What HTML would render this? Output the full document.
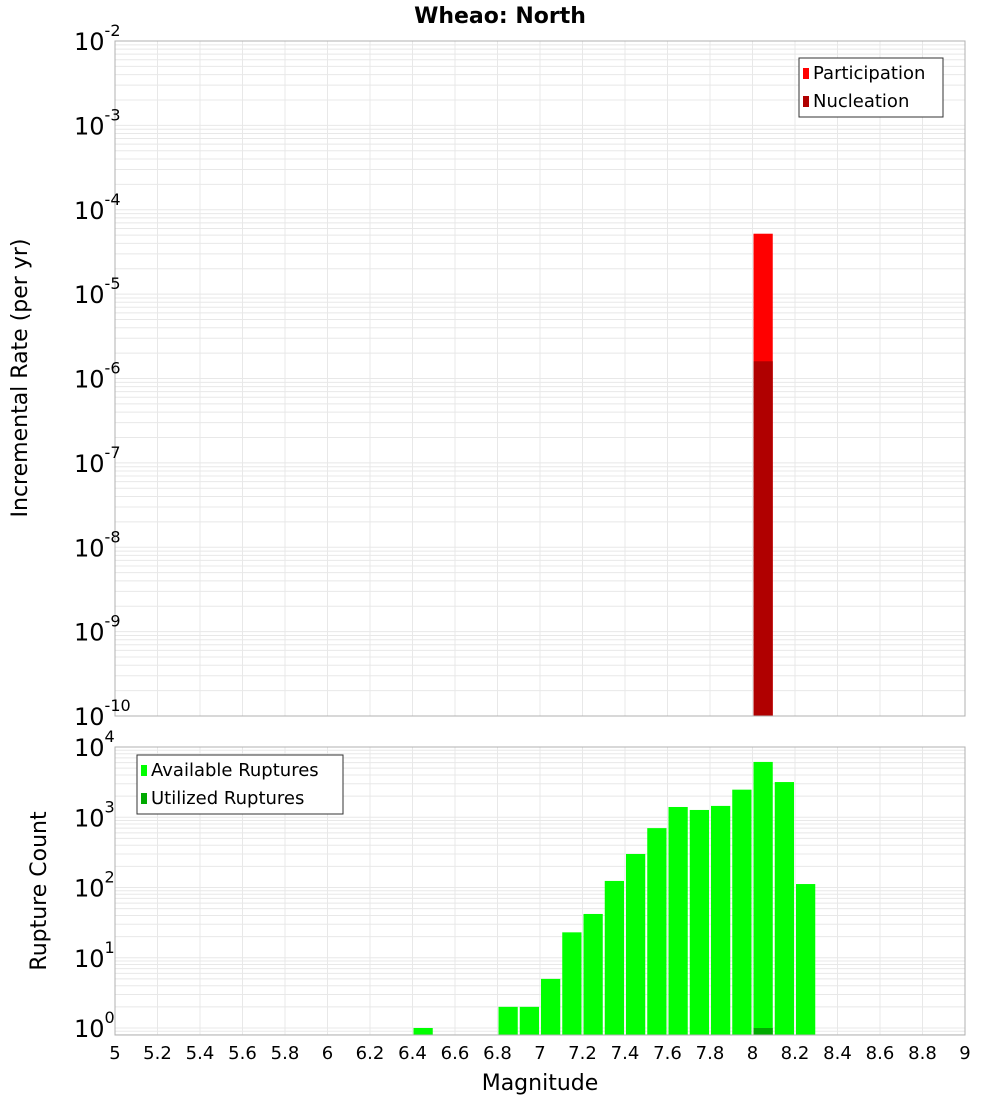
<!DOCTYPE html>
<html><head><meta charset="utf-8"><style>
html,body{margin:0;padding:0;background:#fff;}
svg{display:block;font-family:"DejaVu Sans","Liberation Sans",sans-serif;}
</style></head><body>
<svg id="c" width="1000" height="1100" xmlns="http://www.w3.org/2000/svg">
<text x="500" y="23" text-anchor="middle" font-size="22" font-weight="bold">Wheao: North</text>
<text transform="translate(27,378) rotate(-90)" text-anchor="middle" font-size="22">Incremental Rate (per yr)</text>
<text transform="translate(46,891) rotate(-90)" text-anchor="middle" font-size="22">Rupture Count</text>
<text x="540" y="1090" text-anchor="middle" font-size="22">Magnitude</text>
<g id="topg"></g><g id="botg"></g>
</svg>
<script>
const xTicks=[5,5.2,5.4,5.6,5.8,6,6.2,6.4,6.6,6.8,7,7.2,7.4,7.6,7.8,8,8.2,8.4,8.6,8.8,9];
const rateMags=[8.05];
const participation=[5.2e-5];
const nucleation=[1.6e-6];
const countMags=[6.45,6.85,6.95,7.05,7.15,7.25,7.35,7.45,7.55,7.65,7.75,7.85,7.95,8.05,8.15,8.25];
const available=[1,2,2,5,23,42,124,300,700,1400,1270,1450,2470,6130,3170,112];
const utilMags=[8.05];
const utilized=[1];
const topExps=[-2,-3,-4,-5,-6,-7,-8,-9,-10];
const botExps=[4,3,2,1,0];

const NS="http://www.w3.org/2000/svg";
const L=115,R=965;
const X=m=>L+(m-5)/4*(R-L);
const T={top:41,bot:716,lo:-10,hi:-2};
const B={top:747,bot:1035,y0:1028,per:70.25};
const yT=v=>T.bot-(Math.log10(v)-T.lo)/(T.hi-T.lo)*(T.bot-T.top);
const yB=v=>B.y0-Math.log10(v)*B.per;
function el(p,t,a){const e=document.createElementNS(NS,t);for(const k in a)e.setAttribute(k,a[k]);p.appendChild(e);return e;}
const gTop=document.getElementById('topg'),gBot=document.getElementById('botg');

function grid(g,y0,y1,yf,dLo,dHi,name){
  for(let d=dLo;d<dHi;d++)for(let k=1;k<10;k++){const y=yf(k*Math.pow(10,d));if(y<y0-0.5||y>y1+0.5)continue;
    const l=el(g,'line',{x1:L,x2:R,y1:y,y2:y,stroke:'#e8e8e8','stroke-width':1});
    
    }
  xTicks.forEach(t=>{const l=el(g,'line',{x1:X(t),x2:X(t),y1:y0,y2:y1,stroke:'#e8e8e8','stroke-width':1});
    
    });
}
grid(gTop,T.top,T.bot,yT,-10,-1,'top');
grid(gBot,B.top,B.bot,yB,-1,4,'bottom');

rateMags.forEach((m,i)=>{
  const x0=X(m-0.05)+1,x1=X(m+0.05)-1;
  let r=el(gTop,'rect',{x:x0,y:yT(participation[i]),width:x1-x0,height:T.bot-yT(participation[i]),fill:'#ff0000'});
  
  
  r=el(gTop,'rect',{x:x0,y:yT(nucleation[i]),width:x1-x0,height:T.bot-yT(nucleation[i]),fill:'#b00000'});
  
  
});
countMags.forEach((m,i)=>{
  const x0=X(m-0.05)+1,x1=X(m+0.05)-1;
  const r=el(gBot,'rect',{x:x0,y:yB(available[i]),width:x1-x0,height:B.bot-yB(available[i]),fill:'#00ff00'});
  
  
});
utilMags.forEach((m,i)=>{
  const x0=X(m-0.05)+1,x1=X(m+0.05)-1;
  const r=el(gBot,'rect',{x:x0,y:yB(utilized[i]),width:x1-x0,height:B.bot-yB(utilized[i]),fill:'#00aa00'});
  
  
});
let f=el(gTop,'rect',{x:L,y:T.top,width:R-L,height:T.bot-T.top,fill:'none',stroke:'#b0b0b0'});


f=el(gBot,'rect',{x:L,y:B.top,width:R-L,height:B.bot-B.top,fill:'none',stroke:'#b0b0b0'});



function ylab(g,y,e,name){
  const t=el(g,'text',{x:74,y:y+9,'text-anchor':'start','font-size':24});
  
  
  const a=el(t,'tspan',{});a.textContent='10';
  const b=el(t,'tspan',{dy:-14,'font-size':16});b.textContent=String(e);
}
topExps.forEach(e=>ylab(gTop,yT(Math.pow(10,e)),e,'top-y-tick-label'));
botExps.forEach(e=>ylab(gBot,yB(Math.pow(10,e)),e,'bottom-y-tick-label'));
xTicks.forEach(t=>{const s=el(gBot,'text',{x:X(t),y:1059,'text-anchor':'middle','font-size':18});
  
  
  s.textContent=String(t);});

function legend(g,x,y,w,items,name){
  const r=el(g,'rect',{x:x,y:y,width:w,height:59,fill:'#fff',stroke:'#333'});
  
  
  items.forEach((it,i)=>{
    const s=el(g,'rect',{x:x+4,y:y+10+i*28,width:6,height:11,fill:it[1]});
    
    
    const t=el(g,'text',{x:x+14,y:y+21+i*28,'font-size':18});
    
    
    t.textContent=it[0];
  });
}
legend(gTop,799,58,144,[['Participation','#ff0000'],['Nucleation','#b00000']],'top-legend');
legend(gBot,137,755,206,[['Available Ruptures','#00ff00'],['Utilized Ruptures','#00aa00']],'bottom-legend');
</script>
</body></html>
